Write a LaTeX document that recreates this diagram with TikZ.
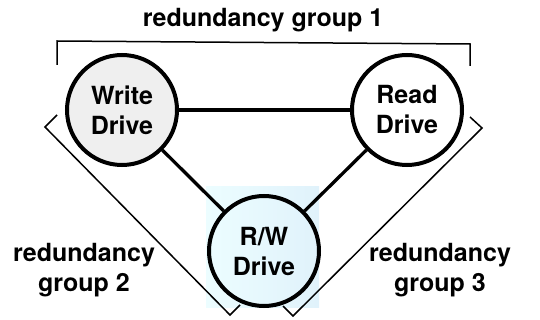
\documentclass[tikz,border=0pt]{standalone}
\usepackage{fontspec}
\setmainfont{TeX Gyre Heros}
\definecolor{wfill}{HTML}{EFEFEF}
\definecolor{bleft}{HTML}{ECFDFF}
\definecolor{bright}{HTML}{E0F2FB}
\begin{document}
\begin{tikzpicture}[x=1pt,y=-1pt,
  drive/.style={circle,draw=black,line width=4pt,minimum size=110pt,inner sep=0pt,align=center,font=\fontsize{25}{30}\selectfont\bfseries},
  link/.style={line width=3.3pt},
  bracket/.style={line width=1.5pt,line join=miter},
  lbl/.style={align=center,inner sep=0pt,font=\fontsize{25}{30}\selectfont\bfseries}]
\useasboundingbox (0,0) rectangle (540,320);
\shade[left color=bleft,right color=bright] (206,187) rectangle (319,307);
\node[drive,fill=wfill] (w) at (122,110) {Write\\Drive};
\node[drive,fill=white] (r) at (407,110) {Read\\Drive};
\node[drive] (rw) at (264,251) {R/W\\Drive};
\draw[link] (w) -- (r);
\draw[link] (w) -- (rw);
\draw[link] (r) -- (rw);
\node[lbl] (g1) at (263,20) {redundancy group 1};
\node[lbl] (g2) at (84,270) {redundancy\\group 2};
\node[lbl] (g3) at (440,270) {redundancy\\group 3};
\coordinate (a1) at (57,65);
\coordinate (a2) at (57,41);
\coordinate (a3) at (470,44);
\coordinate (a4) at (470,66);
\draw[bracket] (a1) -- (a2) -- (a3) -- (a4);
\coordinate (b1) at (57,115);
\coordinate (b2) at (45,127);
\coordinate (b3) at (230,315);
\coordinate (b4) at (240,305);
\draw[bracket] (b1) -- (b2) -- (b3) -- (b4);
\coordinate (c1) at (470,117);
\coordinate (c2) at (482,128);
\coordinate (c3) at (293,316);
\coordinate (c4) at (283,306);
\draw[bracket] (c1) -- (c2) -- (c3) -- (c4);
\end{tikzpicture}
\end{document}
